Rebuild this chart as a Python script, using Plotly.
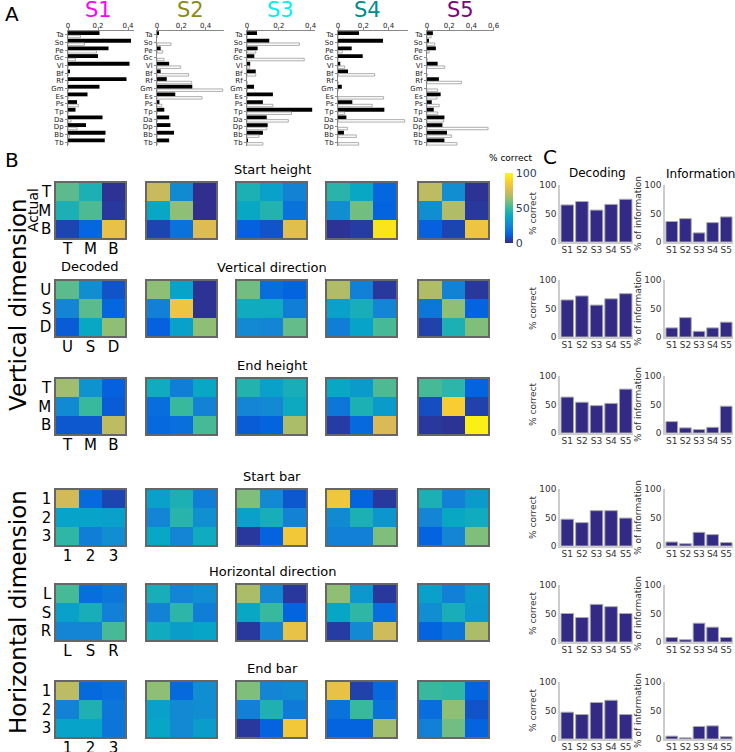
import plotly.graph_objects as go

W, H = 735, 752
FONT = "DejaVu Sans"

# ---------------- data ----------------
muscles = ["Ta", "So", "Pe", "Gc", "Vl", "Bf", "Rf", "Gm", "Es", "Ps", "Tp", "Da", "Dp", "Bb", "Tb"]
subjects = ["S1", "S2", "S3", "S4", "S5"]
subject_colors = ["#ff00ff", "#8c8c14", "#00f0f0", "#008c8c", "#800080"]

# panel A: muscle weights (black = filled bars, white = open bars)
w_black = {
    "S1": [0.21, 0.42, 0.27, 0.20, 0.41, 0.01, 0.39, 0.21, 0.13, 0.06, 0.05, 0.23, 0.12, 0.25, 0.245],
    "S2": [0.016, 0.0, 0.03, 0.0, 0.10, 0.03, 0.08, 0.29, 0.15, 0.02, 0.06, 0.10, 0.11, 0.14, 0.10],
    "S3": [0.063, 0.14, 0.067, 0.046, 0.02, 0.055, 0.0, 0.044, 0.163, 0.10, 0.41, 0.124, 0.13, 0.10, 0.006],
    "S4": [0.166, 0.355, 0.108, 0.195, 0.018, 0.079, 0.0, 0.03, 0.0, 0.113, 0.366, 0.066, 0.0, 0.047, 0.0],
    "S5": [0.053, 0.016, 0.08, 0.0, 0.096, 0.0, 0.107, 0.0, 0.123, 0.043, 0.061, 0.157, 0.139, 0.18, 0.157],
}
w_white = {
    "S1": [0.083, 0.11, 0.19, 0.05, 0.0, 0.0, 0.0, 0.0, 0.0, 0.07, 0.0, 0.02, 0.06, 0.01, 0.0],
    "S2": [0.0, 0.115, 0.047, 0.058, 0.195, 0.26, 0.285, 0.54, 0.37, 0.04, 0.0, 0.0, 0.0, 0.0, 0.0],
    "S3": [0.0, 0.33, 0.055, 0.36, 0.017, 0.055, 0.0, 0.0, 0.0, 0.163, 0.28, 0.26, 0.125, 0.075, 0.10],
    "S4": [0.0, 0.0, 0.034, 0.0, 0.053, 0.29, 0.0, 0.0, 0.36, 0.27, 0.053, 0.526, 0.074, 0.145, 0.163],
    "S5": [0.037, 0.07, 0.02, 0.0, 0.16, 0.0, 0.31, 0.096, 0.09, 0.11, 0.096, 0.15, 0.55, 0.22, 0.27],
}
a_range = {"S1": 0.44, "S2": 0.55, "S3": 0.43, "S4": 0.55, "S5": 0.6}
a_ticks = {"S1": [0, 0.2, 0.4], "S2": [0, 0.2, 0.4], "S3": [0, 0.2, 0.4],
           "S4": [0, 0.2, 0.4], "S5": [0, 0.2, 0.4, 0.6]}

# panel B: confusion matrices (% correct), rows = actual, cols = decoded
conditions = ["Start height", "Vertical direction", "End height",
              "Start bar", "Horizontal direction", "End bar"]
cond_labels = [["T", "M", "B"], ["U", "S", "D"], ["T", "M", "B"],
               ["1", "2", "3"], ["L", "S", "R"], ["1", "2", "3"]]
conf = {
    "Start height": [
        [[55, 43, 2], [43, 53, 3], [6, 14, 80]],
        [[72, 27, 1], [38, 62, 1], [6, 18, 76]],
        [[43, 35, 24], [38, 45, 18], [12, 9, 78]],
        [[46, 38, 14], [28, 58, 13], [2, 4, 94]],
        [[70, 28, 2], [28, 68, 3], [12, 6, 82]],
    ],
    "Vertical direction": [
        [[55, 28, 9], [25, 55, 14], [11, 38, 62]],
        [[62, 36, 2], [23, 82, 2], [12, 35, 62]],
        [[58, 16, 13], [40, 40, 22], [26, 25, 56]],
        [[68, 23, 3], [35, 42, 25], [22, 36, 52]],
        [[68, 24, 3], [20, 62, 13], [5, 43, 60]],
    ],
    "End height": [
        [[65, 30, 12], [27, 50, 11], [10, 10, 70]],
        [[40, 22, 38], [16, 50, 24], [15, 17, 52]],
        [[45, 35, 42], [25, 26, 39], [11, 13, 67]],
        [[38, 33, 53], [20, 43, 33], [4, 15, 75]],
        [[52, 47, 13], [8, 86, 5], [3, 2, 97]],
    ],
    "Start bar": [
        [[74, 15, 6], [36, 36, 35], [48, 22, 28]],
        [[35, 43, 22], [25, 46, 29], [38, 25, 40]],
        [[60, 26, 10], [35, 42, 24], [3, 13, 84]],
        [[83, 13, 3], [27, 43, 31], [23, 23, 60]],
        [[43, 23, 33], [25, 38, 40], [13, 25, 60]],
    ],
    "Horizontal direction": [
        [[52, 16, 20], [35, 42, 23], [25, 25, 52]],
        [[42, 25, 28], [24, 47, 22], [40, 34, 37]],
        [[67, 26, 3], [38, 50, 13], [3, 25, 80]],
        [[62, 32, 3], [37, 48, 16], [4, 26, 73]],
        [[35, 23, 33], [28, 42, 32], [13, 19, 67]],
    ],
    "End bar": [
        [[70, 15, 17], [24, 44, 20], [36, 36, 19]],
        [[62, 15, 28], [35, 26, 28], [37, 26, 34]],
        [[60, 25, 27], [23, 44, 21], [3, 13, 84]],
        [[80, 5, 15], [18, 50, 18], [13, 13, 65]],
        [[50, 48, 13], [16, 62, 9], [23, 58, 13]],
    ],
}

# panel C: decoding accuracy and information per subject
decoding = {
    "Start height": [65, 71, 56, 66, 75],
    "Vertical direction": [65, 72, 56, 67, 76],
    "End height": [63, 54, 48, 52, 77],
    "Start bar": [47, 41, 62, 62, 49],
    "Horizontal direction": [50, 43, 66, 62, 50],
    "End bar": [47, 43, 64, 68, 43],
}
information = {
    "Start height": [36, 41, 16, 34, 44],
    "Vertical direction": [16, 34, 10, 16, 26],
    "End height": [20, 9, 6, 10, 47],
    "Start bar": [7, 4, 24, 20, 6],
    "Horizontal direction": [8, 4, 33, 26, 8],
    "End bar": [5, 2, 22, 23, 4],
}

parula = [
    [0.0, "#352a87"], [0.125, "#0363e1"], [0.25, "#1485d4"], [0.375, "#06a7c6"],
    [0.5, "#38b99e"], [0.625, "#92bf73"], [0.75, "#d9ba56"], [0.875, "#fcce2e"],
    [1.0, "#f9fb0e"],
]


# ---------------- helpers ----------------
def dx(a, b):
    return [a / W, b / W]


def dy(top, bottom):
    return [1 - bottom / H, 1 - top / H]


fig = go.Figure()
layout_axes = {}
n_axes = [0]


def new_axes(xdom, ydom, xopts, yopts):
    n_axes[0] += 1
    n = n_axes[0]
    s = "" if n == 1 else str(n)
    layout_axes["xaxis" + s] = dict(domain=xdom, anchor="y" + s, automargin=False, **xopts)
    layout_axes["yaxis" + s] = dict(domain=ydom, anchor="x" + s, automargin=False, **yopts)
    return "x" + s, "y" + s


annotations = []


def label(x, y, text, size, color="black", angle=0):
    annotations.append(dict(x=x / W, y=1 - y / H, xref="paper", yref="paper", text=text,
                            showarrow=False, textangle=angle, xanchor="center", yanchor="middle",
                            font=dict(size=size, color=color, family=FONT)))


# ---------------- panel A ----------------
a_x0 = {"S1": 68, "S2": 157, "S3": 247, "S4": 338, "S5": 427}
a_scale = {"S1": 150, "S2": 121.7, "S3": 159, "S4": 126.7, "S5": 111}
a_title_x = {"S1": 98, "S2": 190, "S3": 280, "S4": 367, "S5": 460}

for i, s in enumerate(subjects):
    x0 = a_x0[s]
    x1 = x0 + a_range[s] * a_scale[s]
    xa, ya = new_axes(
        dx(x0, x1), dy(31, 146),
        dict(range=[0, a_range[s]], side="top", tickvals=a_ticks[s],
             ticktext=[("%g" % v) for v in a_ticks[s]], showgrid=False, zeroline=False,
             showline=True, linecolor="#888", linewidth=1, ticks="outside", ticklen=2,
             tickcolor="#888", ticklabelstandoff=-3,
             tickfont=dict(size=7, family=FONT, color="#222")),
        dict(autorange="reversed", showgrid=False, zeroline=False, showline=True,
             linecolor="#888", linewidth=1, ticks="outside", ticklen=2, tickcolor="#888",
             tickmode="array", tickvals=muscles, ticktext=muscles,
             tickfont=dict(size=7, family=FONT, color="#222"), type="category"),
    )
    fig.add_trace(go.Bar(x=w_black[s], y=muscles, orientation="h", xaxis=xa, yaxis=ya,
                         marker=dict(color="black", line=dict(width=0)),
                         width=0.5, offset=-0.48, showlegend=False))
    fig.add_trace(go.Bar(x=w_white[s], y=muscles, orientation="h", xaxis=xa, yaxis=ya,
                         marker=dict(color="white", line=dict(color="#999", width=0.8)),
                         width=0.32, offset=0.06, showlegend=False))
    label(a_title_x[s], 10, s, 21, subject_colors[i])

label(12, 14, "A", 20)

# ---------------- panel B ----------------
col_x = [56, 147, 237, 327, 419]
row_y = [183, 281, 379, 490, 585, 682]
hm_w, hm_h = 69, 55

for r, cond in enumerate(conditions):
    labs = cond_labels[r]
    for c in range(5):
        first = c == 0
        xa, ya = new_axes(
            dx(col_x[c], col_x[c] + hm_w), dy(row_y[r], row_y[r] + hm_h),
            dict(showgrid=False, zeroline=False, showline=True, mirror=True,
                 linecolor="#666", linewidth=1.5, ticks="", ticklabelstandoff=-4,
                 tickvals=[0, 1, 2], ticktext=labs, showticklabels=first,
                 tickfont=dict(size=15, family=FONT, color="black"), range=[-0.5, 2.5]),
            dict(showgrid=False, zeroline=False, showline=True, mirror=True,
                 linecolor="#666", linewidth=1.5, ticks="",
                 tickvals=[0, 1, 2], ticktext=labs, showticklabels=first,
                 tickfont=dict(size=15, family=FONT, color="black"), range=[2.5, -0.5]),
        )
        show = (r == 0 and c == 4)
        fig.add_trace(go.Heatmap(
            z=conf[cond][c], x=[0, 1, 2], y=[0, 1, 2], xaxis=xa, yaxis=ya,
            zmin=0, zmax=100, colorscale=parula, showscale=show, hoverinfo="z",
            colorbar=dict(x=505 / W, xanchor="left", y=1 - 208 / H, yanchor="middle",
                          thickness=8, len=70, lenmode="pixels", tickvals=[0, 50, 100],
                          ticks="", outlinewidth=0, xpad=0, ypad=0,
                          tickfont=dict(size=11, family=FONT)) if show else None,
        ))
    label(272, row_y[r] - 14, cond, 13)

label(12, 160, "B", 20)
label(510, 158, "% correct", 9)
label(33, 210, "Actual", 14, angle=-90)
label(90, 266, "Decoded", 13)
label(18, 305, "Vertical dimension", 23, angle=-90)
label(18, 612, "Horizontal dimension", 23, angle=-90)

# ---------------- panel C ----------------
c_rows = [185, 280, 376, 489, 585, 682]
c_h = 57
for r, cond in enumerate(conditions):
    for j, (vals, xr, ttl) in enumerate([(decoding[cond], (560, 633), "% correct"),
                                          (information[cond], (665, 733), "% of information")]):
        xa, ya = new_axes(
            dx(*xr), dy(c_rows[r], c_rows[r] + c_h),
            dict(showgrid=False, zeroline=False, showline=True, linecolor="#ccc", linewidth=1.5,
                 ticks="", tickangle=0, ticklabelstandoff=-2,
                 tickfont=dict(size=9, family=FONT, color="#333")),
            dict(range=[0, 100], tickvals=[0, 50, 100], showgrid=False, zeroline=False,
                 showline=True, linecolor="#ccc", linewidth=1.5, ticks="",
                 tickfont=dict(size=9, family=FONT, color="#333"),
                 title=dict(text=ttl, standoff=1, font=dict(size=9, family=FONT, color="#333"))),
        )
        fig.add_trace(go.Bar(x=subjects, y=vals, xaxis=xa, yaxis=ya, width=0.86,
                             marker=dict(color="#332a86", line=dict(color="#aaa", width=1)),
                             showlegend=False))

label(550, 157, "C", 20)
label(597, 173, "Decoding", 12)
label(700, 174, "Information", 12)

fig.update_layout(
    width=W, height=H, margin=dict(l=0, r=0, t=0, b=0, autoexpand=False),
    plot_bgcolor="white", paper_bgcolor="white", barmode="overlay",
    font=dict(family=FONT), annotations=annotations, bargap=0.1,
    **layout_axes,
)

fig.write_html("out.html", config={"displayModeBar": False},
               post_script="document.body.style.margin='0px';")
